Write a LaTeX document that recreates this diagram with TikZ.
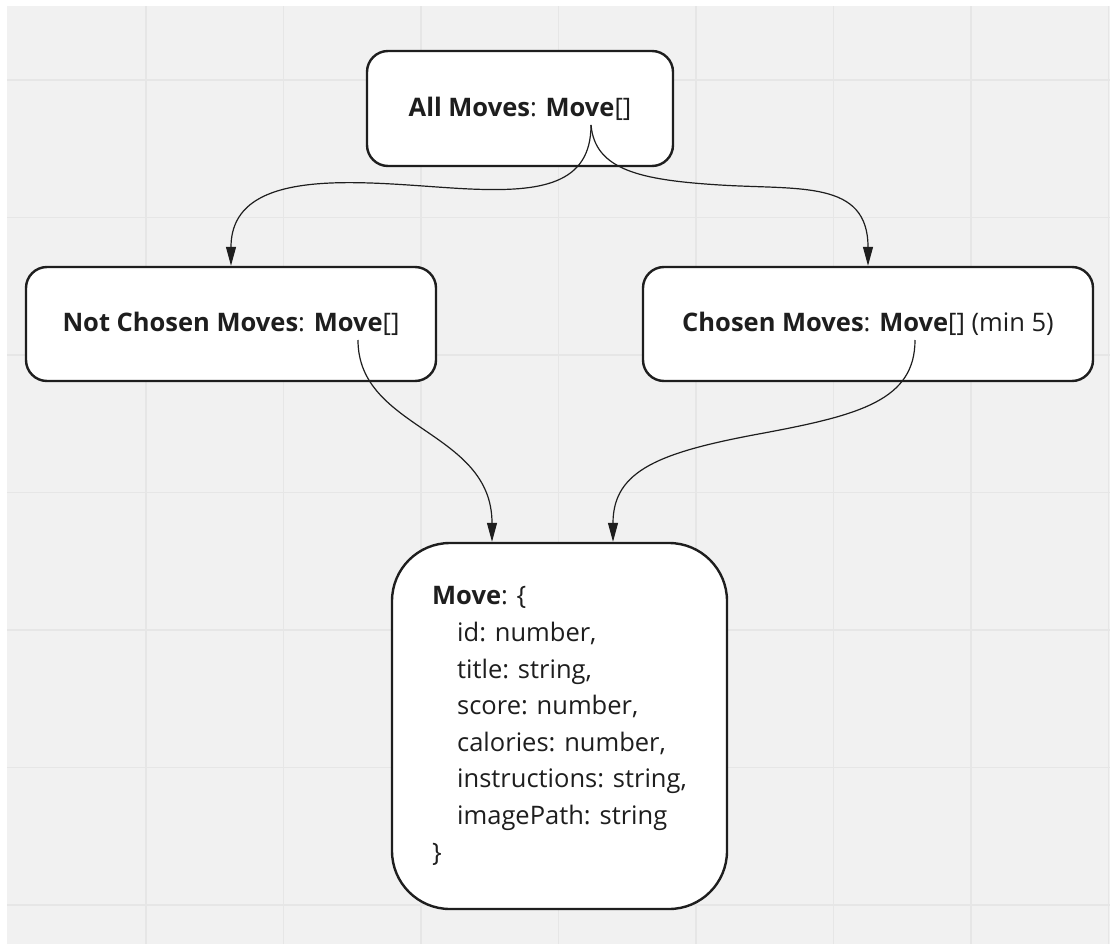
\documentclass[tikz,border=0pt]{standalone}
\usepackage{fontspec}
\setmainfont{Open Sans}
\usetikzlibrary{arrows.meta,calc}
\definecolor{canvas}{HTML}{F1F1F1}
\definecolor{gridline}{HTML}{E6E6E6}
\definecolor{ink}{HTML}{1E1E1E}

\begin{document}
\begin{tikzpicture}[x=1pt,y=-1pt,
  box/.style={draw=ink, line width=2.4pt, fill=white, rounded corners=21pt,
    minimum height=114pt, inner sep=0pt, text=ink,
    font=\fontsize{25.5}{30}\selectfont},
  link/.style={draw=ink, line width=1.2pt, -{Triangle[length=19pt,width=10pt]}},
  gridrule/.style={draw=gridline, line width=1.4pt},
]
\useasboundingbox (0,0) rectangle (1110,944);

% board background with its grid
\fill[canvas] (7,6) rectangle (1110,944);
\foreach \i in {0,...,7}
  \draw[gridrule] ({146+137.5*\i},6) -- ({146+137.5*\i},944);
\foreach \j in {0,...,6}
  \draw[gridrule] (7,{80+137.5*\j}) -- (1110,{80+137.5*\j});

% boxes
\node[box, minimum width=306pt, minimum height=115pt] (all) at (520,108.5)
  {\textbf{All Moves}: \textbf{Move}[]};
\node[box, minimum width=410pt] (nc) at (231,324)
  {\textbf{Not Chosen Moves}: \textbf{Move}[]};
\node[box, minimum width=450pt] (ch) at (868,324)
  {\textbf{Chosen Moves}: \textbf{Move}[] (min 5)};
\node[box, minimum width=335pt, minimum height=366pt, rounded corners=58pt,
  align=left, font=\fontsize{25.5}{36.6}\selectfont] (mv) at (559.5,726)
  {\textbf{Move}: \{\\
   \hspace*{25pt}id: number,\\
   \hspace*{25pt}title: string,\\
   \hspace*{25pt}score: number,\\
   \hspace*{25pt}calories: number,\\
   \hspace*{25pt}instructions: string,\\
   \hspace*{25pt}imagePath: string\\
   \}};

% connector end points
\coordinate (allsrc) at ($(all.center)+(71,16.5)$);
\coordinate (ncsrc) at ($(nc.center)+(127,16)$);
\coordinate (chsrc) at ($(ch.center)+(47,16)$);
\coordinate (mvinL) at ($(mv.north)+(-67.5,0)$);
\coordinate (mvinR) at ($(mv.north)+(53.5,0)$);

% connectors
\draw[link] (allsrc) .. controls (591,185) and (540,192) .. (470,189)
  .. controls (380,185) and (231,160) .. (nc.north);
\draw[link] (allsrc) .. controls (595,170) and (640,180) .. (720,185)
  .. controls (800,190) and (868,180) .. (ch.north);
\draw[link] (ncsrc) .. controls (358,430) and (492,430) .. (mvinL);
\draw[link] (chsrc) .. controls (915,400) and (860,415) .. (764,433)
  .. controls (660,452) and (613,470) .. (mvinR);
\end{tikzpicture}
\end{document}
